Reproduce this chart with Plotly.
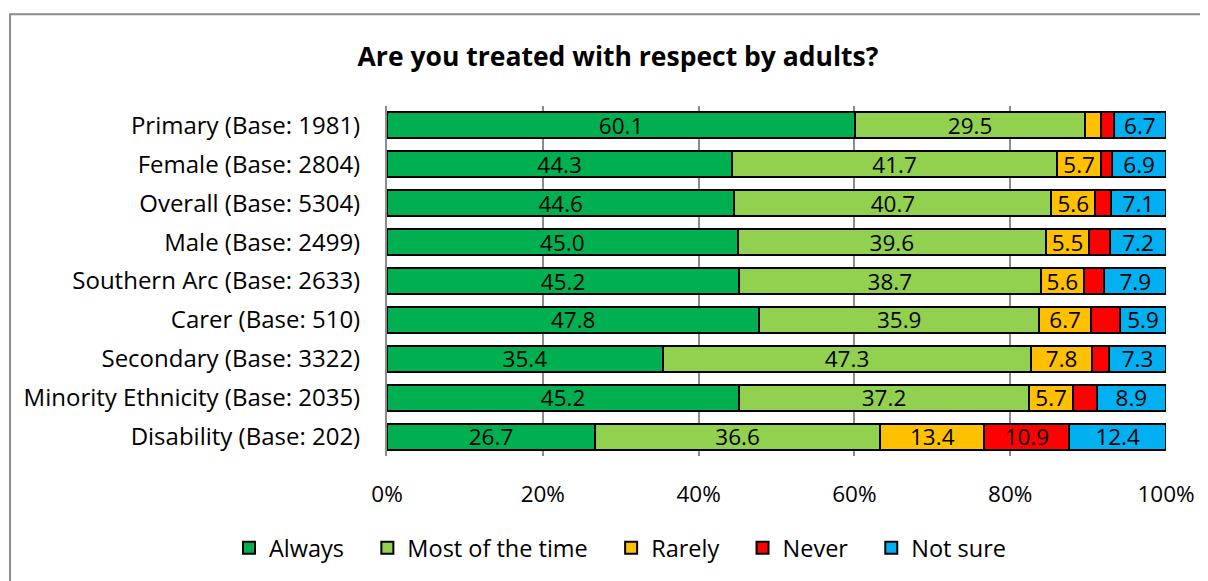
import plotly.graph_objects as go

categories = [
    "Primary (Base: 1981)",
    "Female (Base: 2804)",
    "Overall (Base: 5304)",
    "Male (Base: 2499)",
    "Southern Arc (Base: 2633)",
    "Carer (Base: 510)",
    "Secondary (Base: 3322)",
    "Minority Ethnicity (Base: 2035)",
    "Disability (Base: 202)",
]
always = [60.1, 44.3, 44.6, 45.0, 45.2, 47.8, 35.4, 45.2, 26.7]
most_of_the_time = [29.5, 41.7, 40.7, 39.6, 38.7, 35.9, 47.3, 37.2, 36.6]
rarely = [2.0, 5.7, 5.6, 5.5, 5.6, 6.7, 7.8, 5.7, 13.4]
never = [1.7, 1.4, 2.0, 2.7, 2.6, 3.7, 2.2, 3.0, 10.9]
not_sure = [6.7, 6.9, 7.1, 7.2, 7.9, 5.9, 7.3, 8.9, 12.4]
x_ticks = [0, 20, 40, 60, 80, 100]
x_tick_labels = ["0%", "20%", "40%", "60%", "80%", "100%"]

series = [
    ("Always", always, "#00B050"),
    ("Most of the time", most_of_the_time, "#92D050"),
    ("Rarely", rarely, "#FFC000"),
    ("Never", never, "#FF0000"),
    ("Not sure", not_sure, "#00B0F0"),
]

FONT = "Open Sans"
NB = "\u00a0\u00a0\u00a0"
fig = go.Figure()
for i, (name, vals, color) in enumerate(series):
    fig.add_trace(go.Bar(
        y=categories, x=vals, name=name + (NB if i < len(series) - 1 else ""),
        orientation="h",
        marker=dict(color=color, line=dict(color="black", width=2)),
        text=[f"{v:.1f}" if v >= 5 else "" for v in vals],
        textposition="inside", insidetextanchor="middle", textangle=0,
        constraintext="none",
        textfont=dict(color="black", size=22.5, family=FONT),
    ))

# page body adds an 8px offset; reference pixel coords are shifted by it
OFF = 8
W, H = 1200, 573
L, R, T, B = 387 - OFF, 1166 - OFF, 106 - OFF, 457 - OFF
PW, PH = R - L, B - T
fig.update_layout(
    width=W, height=H,
    barmode="stack", bargap=0.33,
    margin=dict(l=L, r=W - R, t=T, b=H - B, pad=0),
    paper_bgcolor="white", plot_bgcolor="white",
    font=dict(family=FONT, size=22.5, color="black"),
    title=dict(text="<b>Are you treated with respect by adults?</b>",
               x=(618 - OFF) / W, xanchor="center", y=1 - (57 - OFF) / H,
               yanchor="middle",
               font=dict(size=26.5, family=FONT, color="black")),
    legend=dict(orientation="h", x=(620 - OFF - L) / PW, xanchor="center",
                y=(B - (548 - OFF)) / PH, yanchor="middle",
                font=dict(size=23.5, family=FONT), traceorder="normal",
                itemwidth=30, itemclick=False),
    xaxis=dict(range=[0, 100], tickvals=x_ticks, ticktext=x_tick_labels,
               showgrid=True, gridcolor="#8C8C8C", gridwidth=2,
               zeroline=False, showline=False, ticks="",
               tickfont=dict(size=22.5, family=FONT),
               ticklabelstandoff=22, fixedrange=True),
    yaxis=dict(autorange="reversed", showline=True, linecolor="#8C8C8C",
               linewidth=2, ticks="", ticklabelstandoff=20, showgrid=False,
               tickfont=dict(size=24, family=FONT),
               fixedrange=True),
    showlegend=True,
    shapes=[dict(type="rect", xref="paper", yref="paper",
                 x0=(10 - OFF - L) / PW, x1=(1240 - L) / PW,
                 y0=(B - 620) / PH, y1=(B - (14 - OFF)) / PH,
                 line=dict(color="#8C8C8C", width=2), fillcolor="rgba(0,0,0,0)",
                 layer="below")],
)
fig.write_html("out.html")
